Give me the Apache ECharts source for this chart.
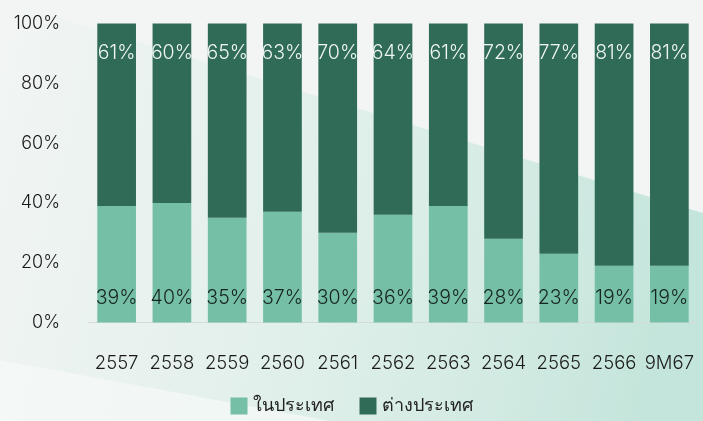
<!DOCTYPE html>
<html>
<head>
<meta charset="utf-8">
<script src="https://cdn.jsdelivr.net/npm/echarts@6/dist/echarts.min.js"></script>
<style>
  html, body { margin: 0; padding: 0; background: #f2f5f4; }
  #chart { width: 703px; height: 421px; }
</style>
</head>
<body>
<div id="chart"></div>
<script>
// Share of domestic vs. foreign, by year
const categories = ['2557', '2558', '2559', '2560', '2561', '2562', '2563', '2564', '2565', '2566', '9M67'];
const domestic = [39, 40, 35, 37, 30, 36, 39, 28, 23, 19, 19];
const foreign = [61, 60, 65, 63, 70, 64, 61, 72, 77, 81, 81];
const seriesNames = ['ในประเทศ', 'ต่างประเทศ'];
const yTicks = [0, 20, 40, 60, 80, 100];

const FONT = 'Inter, Roboto, sans-serif';
const WEIGHT = 300;

const chart = echarts.init(document.getElementById('chart'));
chart.setOption({
  backgroundColor: '#f2f5f4',
  animation: false,
  graphic: [
    {
      // soft teal wash across the lower right
      type: 'polygon',
      z: -10,
      silent: true,
      shape: { points: [[0, 0], [703, 213], [703, 421], [0, 421]] },
      style: {
        fill: {
          type: 'linear', x: 0, y: 0, x2: 1, y2: 0.4,
          colorStops: [
            { offset: 0, color: 'rgba(214,236,229,0)' },
            { offset: 0.45, color: 'rgba(214,236,229,0.55)' },
            { offset: 1, color: 'rgba(196,229,219,1)' }
          ]
        }
      }
    },
    {
      // lighter band along the bottom left
      type: 'polygon',
      z: -9,
      silent: true,
      shape: { points: [[0, 360], [330, 421], [0, 421]] },
      style: { fill: 'rgba(246,249,248,0.7)' }
    }
  ],
  grid: { left: 89, right: 6, top: 23.5, bottom: 98.5, containLabel: false },
  legend: {
    bottom: 1,
    left: 'center',
    itemWidth: 17,
    itemHeight: 17,
    itemGap: 26,
    icon: 'rect',
    textStyle: { fontFamily: FONT, fontWeight: WEIGHT, fontSize: 18, color: '#222' },
    data: seriesNames
  },
  xAxis: {
    type: 'category',
    data: categories,
    axisLine: { lineStyle: { color: '#d4dad8', width: 1 } },
    axisTick: { show: false },
    axisLabel: { interval: 0, fontFamily: FONT, fontWeight: WEIGHT, fontSize: 18.5, color: '#1a1a1a', margin: 31 }
  },
  yAxis: {
    type: 'value',
    min: 0,
    max: 100,
    interval: 20,
    splitLine: { show: false },
    axisLine: { show: false },
    axisTick: { show: false },
    axisLabel: {
      fontFamily: FONT, fontWeight: WEIGHT, fontSize: 18, color: '#1a1a1a', margin: 29,
      formatter: v => yTicks.includes(v) ? v + '%' : ''
    }
  },
  series: [
    {
      name: seriesNames[0],
      type: 'bar',
      stack: 'share',
      barWidth: '70%',
      data: domestic,
      itemStyle: { color: '#76bfa7' },
      label: {
        show: true, position: 'insideBottom', distance: 14,
        formatter: '{c}%', fontFamily: FONT, fontWeight: WEIGHT, fontSize: 19.5, color: '#16241f'
      }
    },
    {
      name: seriesNames[1],
      type: 'bar',
      stack: 'share',
      barWidth: '70%',
      data: foreign,
      itemStyle: { color: '#306b57' },
      label: {
        show: true, position: 'insideTop', distance: 19.5,
        formatter: '{c}%', fontFamily: FONT, fontWeight: WEIGHT, fontSize: 19.5, color: '#eef5f2'
      }
    }
  ]
});
</script>
</body>
</html>
